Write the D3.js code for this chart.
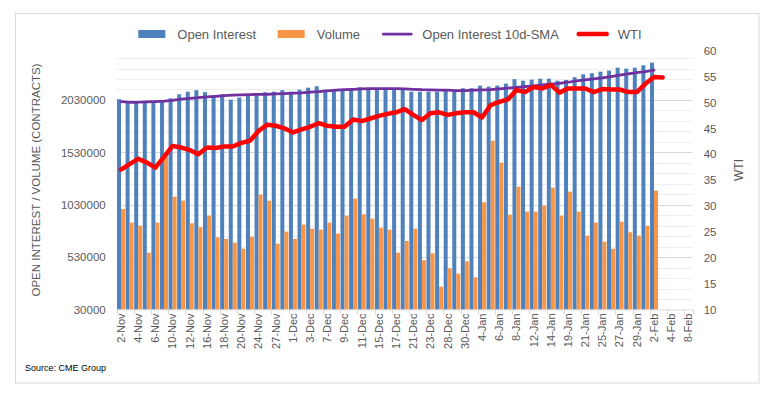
<!DOCTYPE html>
<html>
<head>
<meta charset="utf-8">
<script src="https://cdn.jsdelivr.net/npm/d3@7"></script>
<style>
  body { margin: 0; background: #fff; }
  svg { display: block; font-family: "Liberation Sans", Arial, sans-serif; }
</style>
</head>
<body>
<svg id="chart" width="779" height="399"></svg>
<script>
// categories (business days, one every tick; labels on every other one)
const dates = [
  '2-Nov','3-Nov','4-Nov','5-Nov','6-Nov','9-Nov','10-Nov','11-Nov','12-Nov','13-Nov',
  '16-Nov','17-Nov','18-Nov','19-Nov','20-Nov','23-Nov','24-Nov','25-Nov','27-Nov','30-Nov',
  '1-Dec','2-Dec','3-Dec','4-Dec','7-Dec','8-Dec','9-Dec','10-Dec','11-Dec','14-Dec',
  '15-Dec','16-Dec','17-Dec','18-Dec','21-Dec','22-Dec','23-Dec','24-Dec','28-Dec','29-Dec',
  '30-Dec','31-Dec','4-Jan','5-Jan','6-Jan','7-Jan','8-Jan','11-Jan','12-Jan','13-Jan',
  '14-Jan','15-Jan','19-Jan','20-Jan','21-Jan','22-Jan','25-Jan','26-Jan','27-Jan','28-Jan',
  '29-Jan','1-Feb','2-Feb','3-Feb','4-Feb','5-Feb','8-Feb'
];

const openInterest = [
  2037000, 2008000, 2008000, 2008000, 2008000, 2014000, 2046000, 2084000, 2109000, 2123000,
  2104000, 2071000, 2084000, 2033000, 2052000, 2071000, 2084000, 2104000, 2109000, 2123000,
  2109000, 2128000, 2147000, 2161000, 2128000, 2128000, 2135000, 2138000, 2151000, 2145000,
  2145000, 2142000, 2138000, 2126000, 2109000, 2109000, 2109000, 2109000, 2119000, 2119000,
  2142000, 2142000, 2167000, 2157000, 2167000, 2186000, 2228000, 2214000, 2224000, 2233000,
  2233000, 2214000, 2221000, 2247000, 2275000, 2285000, 2300000, 2310000, 2338000, 2329000,
  2338000, 2361000, 2386000
];

const volume = [
  989000, 859000, 830000, 572000, 859000, 1521000, 1107000, 1069000, 853000, 815000,
  926000, 719000, 703000, 668000, 610000, 725000, 1126000, 1069000, 658000, 773000,
  703000, 840000, 801000, 792000, 859000, 754000, 926000, 1088000, 939000, 897000,
  811000, 792000, 572000, 684000, 801000, 500000, 567000, 248000, 423000, 372000,
  490000, 337000, 1053000, 1641000, 1431000, 935000, 1202000, 964000, 964000, 1021000,
  1193000, 926000, 1155000, 964000, 735000, 859000, 677000, 610000, 868000, 767000,
  735000, 830000, 1164000
];

const oiSma = [
  2014000, 2008000, 2008000, 2011000, 2014000, 2018000, 2025000, 2037000, 2046000, 2052000,
  2059000, 2065000, 2071000, 2075000, 2078000, 2081000, 2084000, 2084000, 2087000, 2090000,
  2094000, 2097000, 2104000, 2109000, 2116000, 2123000, 2128000, 2132000, 2135000, 2137000,
  2138000, 2138000, 2138000, 2135000, 2132000, 2128000, 2126000, 2123000, 2123000, 2119000,
  2119000, 2123000, 2126000, 2128000, 2135000, 2142000, 2151000, 2157000, 2164000, 2173000,
  2180000, 2189000, 2199000, 2211000, 2221000, 2231000, 2240000, 2253000, 2266000, 2278000,
  2291000, 2300000, 2314000
];

const wti = [
  37.0, 38.1, 39.1, 38.4, 37.4, 39.5, 41.6, 41.3, 40.8, 40.0,
  41.3, 41.2, 41.5, 41.5, 42.2, 42.6, 44.5, 45.7, 45.5, 45.0,
  44.2, 44.8, 45.3, 46.0, 45.5, 45.3, 45.3, 46.7, 46.4, 46.9,
  47.4, 47.8, 48.1, 48.7, 47.6, 46.6, 47.9, 48.1, 47.6, 47.9,
  48.1, 48.1, 47.1, 49.5, 50.1, 50.6, 52.4, 52.0, 53.0, 52.7,
  53.4, 51.9, 52.7, 52.7, 52.7, 52.0, 52.6, 52.5, 52.5, 52.0,
  52.0, 53.6, 54.9, 54.8
];

const leftTicks = [30000, 530000, 1030000, 1530000, 2030000];
const rightTicks = [10, 15, 20, 25, 30, 35, 40, 45, 50, 55, 60];

const legendItems = [
  { name: 'Open Interest', color: '#4F81BD', kind: 'rect' },
  { name: 'Volume', color: '#F79646', kind: 'rect' },
  { name: 'Open Interest 10d-SMA', color: '#7030A0', kind: 'line' },
  { name: 'WTI', color: '#FF0000', kind: 'line' }
];

const textGrey = '#595959';
const plot = { left: 116.7, right: 692.7, top: 50.7, bottom: 309.5 };

const svg = d3.select('#chart');

// chart frame
svg.append('rect')
  .attr('x', 15.5).attr('y', 13.5)
  .attr('width', 743.5).attr('height', 369.5)
  .attr('fill', '#fff')
  .attr('stroke', '#d9d9d9');

// scales
const x = d3.scaleBand().domain(dates).range([plot.left, plot.right]).padding(0);
const xSeries = d3.scaleBand().domain(['oi', 'vol']).range([0, x.bandwidth()])
  .paddingInner(0).paddingOuter(0.075);
const yLeft = d3.scaleLinear().domain([30000, 2500000]).range([plot.bottom, plot.top]);
const yRight = d3.scaleLinear().domain([10, 60]).range([plot.bottom, plot.top]);

// gridlines (minor every 100000, major every 500000)
const grid = d3.range(130000, 2500000, 100000);
svg.append('g')
  .selectAll('line')
  .data(grid)
  .join('line')
    .attr('x1', plot.left).attr('x2', plot.right)
    .attr('y1', d => Math.round(yLeft(d)) + 0.5)
    .attr('y2', d => Math.round(yLeft(d)) + 0.5)
    .attr('stroke', d => ((d - 30000) % 500000 === 0) ? '#d9d9d9' : '#eeeeee')
    .attr('stroke-width', 1);

// bars
const barG = svg.append('g');
barG.selectAll('rect.oi')
  .data(openInterest)
  .join('rect')
    .attr('class', 'oi')
    .attr('x', (d, i) => x(dates[i]) + xSeries('oi'))
    .attr('width', xSeries.bandwidth())
    .attr('y', d => yLeft(d))
    .attr('height', d => yLeft(30000) - yLeft(d))
    .attr('fill', '#4F81BD');

barG.selectAll('rect.vol')
  .data(volume)
  .join('rect')
    .attr('class', 'vol')
    .attr('x', (d, i) => x(dates[i]) + xSeries('vol'))
    .attr('width', xSeries.bandwidth())
    .attr('y', d => yLeft(d))
    .attr('height', d => yLeft(30000) - yLeft(d))
    .attr('fill', '#F79646');

// category axis
const labelDates = dates.filter((d, i) => i % 2 === 0);
const xAxisG = svg.append('g')
  .attr('transform', `translate(0,${plot.bottom})`)
  .call(d3.axisBottom(x).tickValues(labelDates).tickSize(0).tickPadding(4));
xAxisG.select('.domain').remove();
xAxisG.selectAll('text')
  .attr('transform', 'rotate(-90)')
  .attr('x', -4).attr('y', 0).attr('dy', '0.35em')
  .attr('text-anchor', 'end')
  .attr('fill', textGrey)
  .style('font-size', '11px')
  .style('font-family', '"Liberation Sans", Arial, sans-serif');

svg.append('line')
  .attr('x1', plot.left).attr('x2', plot.right)
  .attr('y1', plot.bottom + 0.5).attr('y2', plot.bottom + 0.5)
  .attr('stroke', '#d9d9d9');

const tickPos = d3.range(0, dates.length, 2).map(i => plot.left + i * x.step()).concat([plot.right]);
svg.append('g')
  .selectAll('line')
  .data(tickPos)
  .join('line')
    .attr('x1', d => Math.round(d) + 0.5).attr('x2', d => Math.round(d) + 0.5)
    .attr('y1', plot.bottom).attr('y2', plot.bottom + 5)
    .attr('stroke', '#d9d9d9');

// value axes
const leftAxisG = svg.append('g')
  .attr('transform', `translate(${plot.left},0)`)
  .call(d3.axisLeft(yLeft).tickValues(leftTicks).tickSize(0).tickPadding(11).tickFormat(d3.format('d')));
leftAxisG.select('.domain').remove();
leftAxisG.selectAll('text')
  .attr('fill', textGrey)
  .style('font-size', '11.5px')
  .style('font-family', '"Liberation Sans", Arial, sans-serif');

const rightAxisG = svg.append('g')
  .attr('transform', `translate(${plot.right},0)`)
  .call(d3.axisRight(yRight).tickValues(rightTicks).tickSize(0).tickPadding(11));
rightAxisG.select('.domain').remove();
rightAxisG.selectAll('text')
  .attr('fill', textGrey)
  .style('font-size', '11.5px')
  .style('font-family', '"Liberation Sans", Arial, sans-serif');

// lines
const smaLine = d3.line()
  .x((d, i) => x(dates[i]) + x.bandwidth() / 2)
  .y(d => yLeft(d));
svg.append('path')
  .datum(oiSma)
  .attr('d', smaLine)
  .attr('fill', 'none')
  .attr('stroke', '#7030A0')
  .attr('stroke-width', 2.75)
  .attr('stroke-linejoin', 'round')
  .attr('stroke-linecap', 'round');

const wtiLine = d3.line()
  .x((d, i) => x(dates[i]) + x.bandwidth() / 2)
  .y(d => yRight(d));
svg.append('path')
  .datum(wti)
  .attr('d', wtiLine)
  .attr('fill', 'none')
  .attr('stroke', '#FF0000')
  .attr('stroke-width', 4.5)
  .attr('stroke-linejoin', 'round')
  .attr('stroke-linecap', 'round');

// axis titles
svg.append('text')
  .attr('transform', 'translate(40,180) rotate(-90)')
  .attr('text-anchor', 'middle')
  .attr('fill', textGrey)
  .style('font-size', '11.5px')
  .text('OPEN INTEREST / VOLUME (CONTRACTS)');

svg.append('text')
  .attr('transform', 'translate(743,170) rotate(-90)')
  .attr('text-anchor', 'middle')
  .attr('fill', textGrey)
  .style('font-size', '12px')
  .text('WTI');

// legend
const legendX = [138.3, 277.7, 382.3, 577.7];
const legend = svg.append('g')
  .selectAll('g')
  .data(legendItems)
  .join('g')
    .attr('transform', (d, i) => `translate(${legendX[i]},34)`);

legend.filter(d => d.kind === 'rect')
  .append('rect')
    .attr('x', 0).attr('y', -4)
    .attr('width', 27).attr('height', 8)
    .attr('fill', d => d.color);

legend.filter(d => d.kind === 'line')
  .append('line')
    .attr('x1', 1).attr('x2', 29)
    .attr('y1', 0).attr('y2', 0)
    .attr('stroke', d => d.color)
    .attr('stroke-width', d => d.name === 'WTI' ? 4.5 : 2.75)
    .attr('stroke-linecap', 'round');

legend.append('text')
  .attr('x', d => d.kind === 'rect' ? 39 : 40)
  .attr('y', 0)
  .attr('dy', '0.35em')
  .attr('fill', textGrey)
  .style('font-size', '13px')
  .text(d => d.name);

// source note
svg.append('text')
  .attr('x', 25)
  .attr('y', 371)
  .attr('fill', '#000')
  .style('font-size', '9px')
  .text('Source: CME Group');
</script>
</body>
</html>
